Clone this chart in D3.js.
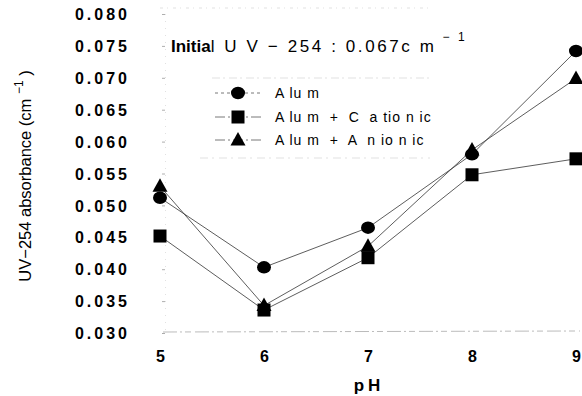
<!DOCTYPE html>
<html><head><meta charset="utf-8">
<script src="https://cdn.jsdelivr.net/npm/d3@7"></script>
<style>body{margin:0;background:#fff}svg{display:block}text{font-family:"Liberation Sans",Arial,sans-serif;fill:#000}</style>
</head><body><svg id="c" width="582" height="396"></svg>
<script>
const phValues = [5, 6, 7, 8, 9];
const alum = [0.0512, 0.0403, 0.0465, 0.0580, 0.0742];
const alumCationic = [0.0452, 0.0336, 0.0418, 0.0548, 0.0573];
const alumAnionic = [0.0530, 0.0343, 0.0436, 0.0587, 0.0699];
const yTicks = [0.030, 0.035, 0.040, 0.045, 0.050, 0.055, 0.060, 0.065, 0.070, 0.075, 0.080];
const seriesNames = ["A lu m", "A lu m  +  C  a tio n ic", "A lu m  +  A  n io n ic"];
const seriesShapes = ["circle", "square", "triangle"];

const svg = d3.select("#c");
const x = d3.scaleLinear().domain([5, 9]).range([160, 576]);
const y = d3.scaleLinear().domain([0.030, 0.080]).range([333, 14]);

// faint frame lines
svg.append("line").attr("x1",163).attr("x2",580).attr("y1",332).attr("y2",331)
  .attr("stroke","#aaa").attr("stroke-width",0.8).attr("stroke-dasharray","14 3 2 3 6 4");
svg.append("line").attr("x1",160).attr("x2",430).attr("y1",8).attr("y2",8)
  .attr("stroke","#ccc").attr("stroke-width",0.6).attr("stroke-dasharray","3 4 1 5");

// y axis
const yAxis = d3.axisLeft(y).tickValues(yTicks).tickFormat(d3.format(".3f")).tickSize(3).tickPadding(32);
const ya = svg.append("g").attr("transform","translate(165,0)").call(yAxis);
ya.select(".domain").attr("stroke","#ccc").attr("stroke-width",0.6).attr("stroke-dasharray","1 6");
ya.selectAll(".tick line").attr("stroke","#999").attr("stroke-width",0.8);
ya.selectAll(".tick text").attr("font-size",16).attr("font-weight","bold").attr("letter-spacing","3px")
  .attr("font-family","Liberation Sans, Arial, sans-serif").attr("fill","#000").attr("dy","0.35em");

// x axis
const xAxis = d3.axisBottom(x).tickValues(phValues).tickFormat(d3.format("d")).tickSize(0).tickPadding(19);
const xa = svg.append("g").attr("transform","translate(0,332)").call(xAxis);
xa.select(".domain").remove();
xa.selectAll(".tick text").attr("font-size",16).attr("font-weight","bold")
  .attr("font-family","Liberation Sans, Arial, sans-serif").attr("fill","#000");

// axis titles
svg.append("text").attr("x",369).attr("y",391).attr("text-anchor","middle")
  .attr("font-size",17).attr("font-weight","bold").attr("letter-spacing","4px").text("pH");
const yl = svg.append("text").attr("transform","translate(31,176) rotate(-90)").attr("text-anchor","middle")
  .attr("font-size",16.5);
yl.append("tspan").text("UV\u2212254 absorbance (cm ");
yl.append("tspan").attr("dy",-8).attr("font-size",12).text("\u22121");
yl.append("tspan").attr("dy",8).text(" )");

// annotation
const an = svg.append("text").attr("x",171).attr("y",52).attr("font-size",17).attr("letter-spacing","2.6px");
an.append("tspan").attr("font-weight","bold").attr("letter-spacing","0px").text("Initia");
an.append("tspan").text("l U V \u2212 254 : 0.067c m");
an.append("tspan").attr("dy",-11).attr("font-size",12).text(" \u2212 1");

const data = [alum, alumCationic, alumAnionic];
const line = d3.line().x((d,i)=>x(phValues[i])).y(d=>y(d));

function marker(g, shape, cx, cy) {
  if (shape === "circle") g.append("ellipse").attr("cx",cx).attr("cy",cy).attr("rx",7).attr("ry",6.2).attr("fill","#000");
  else if (shape === "square") g.append("rect").attr("x",cx-6.5).attr("y",cy-6.5).attr("width",13).attr("height",13).attr("fill","#000");
  else g.append("path").attr("d",`M${cx},${cy-8}L${cx+7.5},${cy+5.5}L${cx-7.5},${cy+5.5}Z`).attr("fill","#000");
}

data.forEach((vals, k) => {
  svg.append("path").attr("d", line(vals)).attr("fill","none").attr("stroke","#333").attr("stroke-width",0.8);
});
data.forEach((vals, k) => {
  const g = svg.append("g");
  vals.forEach((v,i)=>marker(g, seriesShapes[k], x(phValues[i]), y(v)));
});

// legend
const lg = svg.append("g");
lg.append("line").attr("x1",212).attr("x2",430).attr("y1",78).attr("y2",78).attr("stroke","#ccc").attr("stroke-width",0.6).attr("stroke-dasharray","8 3 2 4");
lg.append("line").attr("x1",200).attr("x2",430).attr("y1",158).attr("y2",158).attr("stroke","#ccc").attr("stroke-width",0.6).attr("stroke-dasharray","8 4 2 5");
const legY = [93, 117, 140];
seriesNames.forEach((n,k)=>{
  lg.append("line").attr("x1",215).attr("x2",263).attr("y1",legY[k]).attr("y2",legY[k]).attr("stroke","#555").attr("stroke-width",0.8).attr("stroke-dasharray", k===0?"3 3":"10 3 2 3");
  marker(lg, seriesShapes[k], 238, legY[k]);
  lg.append("text").attr("x",275).attr("y",legY[k]+5).attr("font-size",14).attr("letter-spacing","1px").attr("xml:space","preserve").text(n);
});
</script></body></html>
